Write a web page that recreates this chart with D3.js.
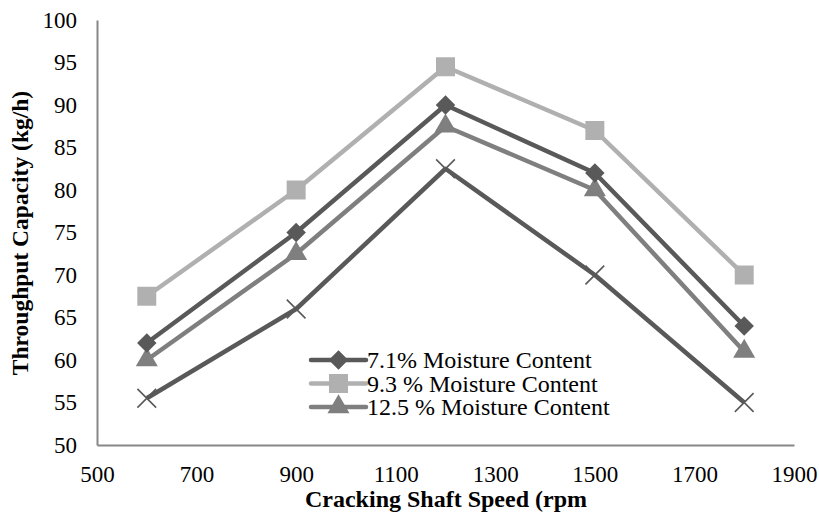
<!DOCTYPE html>
<html>
<head>
<meta charset="utf-8">
<script src="https://cdn.jsdelivr.net/npm/d3@7"></script>
<style>
  body { margin: 0; background: #fff; }
  svg { font-family: "Liberation Serif", "Times New Roman", serif; }
  .axis path { stroke: #878787; stroke-width: 2; }
  .axis text { font-size: 23px; fill: #000; font-family: "Liberation Serif", serif; }
</style>
</head>
<body>
<div id="chart"></div>
<script>
// Cracking shaft speeds (rpm)
const speeds = [600, 900, 1200, 1500, 1800];

// throughput capacity (kg/h) per moisture level
const mc71 = [62, 75, 90, 82, 64];
const mc93 = [67.5, 80, 94.5, 87, 70];
const mc125 = [60, 72.5, 87.5, 80, 61];
const unlabeled = [55.5, 66, 82.5, 70, 55]; // 4th series, no legend entry

const seriesNames = ['7.1% Moisture Content', '9.3 % Moisture Content', '12.5 % Moisture Content'];
const xTicks = [500, 700, 900, 1100, 1300, 1500, 1700, 1900];
const yTicks = [50, 55, 60, 65, 70, 75, 80, 85, 90, 95, 100];

const width = 819;
const height = 525;
const margin = { top: 20, right: 25, bottom: 80, left: 97 };

const series = [
  { name: null, values: unlabeled, color: '#595959', marker: 'x' },
  { name: seriesNames[2], values: mc125, color: '#7f7f7f', marker: 'triangle' },
  { name: seriesNames[0], values: mc71, color: '#595959', marker: 'diamond' },
  { name: seriesNames[1], values: mc93, color: '#b0b0b0', marker: 'square' },
];

const svg = d3.select('#chart')
  .append('svg')
  .attr('width', width)
  .attr('height', height);

const xScale = d3.scaleLinear()
  .domain([500, 1900])
  .range([margin.left, width - margin.right]);

const yScale = d3.scaleLinear()
  .domain([50, 100])
  .range([height - margin.bottom, margin.top]);

// axes
svg.append('g')
  .attr('class', 'axis')
  .attr('transform', `translate(0, ${height - margin.bottom})`)
  .call(d3.axisBottom(xScale).tickValues(xTicks).tickFormat(d3.format('d'))
    .tickSize(0).tickPadding(21).tickSizeOuter(0))
  .call((g) => g.selectAll('.tick line').remove());

svg.append('g')
  .attr('class', 'axis')
  .attr('transform', `translate(${margin.left}, 0)`)
  .call(d3.axisLeft(yScale).tickValues(yTicks).tickFormat(d3.format('d'))
    .tickSize(0).tickPadding(20).tickSizeOuter(0))
  .call((g) => g.selectAll('.tick line').remove());

// axis titles
svg.append('text')
  .attr('x', 446)
  .attr('y', 507)
  .attr('text-anchor', 'middle')
  .style('font-size', '24px')
  .style('font-weight', 'bold')
  .text('Cracking Shaft Speed (rpm');

svg.append('text')
  .attr('transform', `translate(28, 233) rotate(-90)`)
  .attr('text-anchor', 'middle')
  .style('font-size', '23.5px')
  .style('font-weight', 'bold')
  .text('Throughput Capacity (kg/h)');

const line = d3.line()
  .x((d, i) => xScale(speeds[i]))
  .y((d) => yScale(d));

const symbolOf = {
  diamond: d3.symbol().type(d3.symbolSquare).size(190),
  square: d3.symbol().type(d3.symbolSquare).size(360),
  triangle: d3.symbol().type(d3.symbolTriangle).size(210),
  x: d3.symbol().type(d3.symbolTimes).size(230),
};

function drawMarker(g, s, x, y) {
  if (s.marker === 'x') {
    g.append('path')
      .attr('d', symbolOf.x())
      .attr('transform', `translate(${x},${y})`)
      .attr('fill', 'none')
      .attr('stroke', s.color)
      .attr('stroke-width', 1.6);
  } else {
    const rot = s.marker === 'diamond' ? ' rotate(45)' : '';
    g.append('path')
      .attr('d', symbolOf[s.marker]())
      .attr('transform', `translate(${x},${y})${rot}`)
      .attr('fill', s.color);
  }
}

const plot = svg.append('g').attr('class', 'series');

series.forEach((s) => {
  const g = plot.append('g');
  g.append('path')
    .datum(s.values)
    .attr('d', line)
    .attr('fill', 'none')
    .attr('stroke', s.color)
    .attr('stroke-width', 4.5)
    .attr('stroke-linejoin', 'round');
  s.values.forEach((v, i) => drawMarker(g, s, xScale(speeds[i]), yScale(v)));
});

// legend
const legend = svg.append('g').attr('class', 'legend');
const legendItems = [series[2], series[3], series[1]];
legendItems.forEach((s, i) => {
  const y = 360 + i * 23.5;
  const g = legend.append('g');
  g.append('line')
    .attr('x1', 311).attr('x2', 366)
    .attr('y1', y).attr('y2', y)
    .attr('stroke', s.color)
    .attr('stroke-width', 4.5)
    .attr('stroke-linecap', 'round');
  drawMarker(g, s, 338.5, y);
  g.append('text')
    .attr('x', 367)
    .attr('y', y + 8)
    .style('font-size', '24px')
    .text(s.name);
});
</script>
</body>
</html>
